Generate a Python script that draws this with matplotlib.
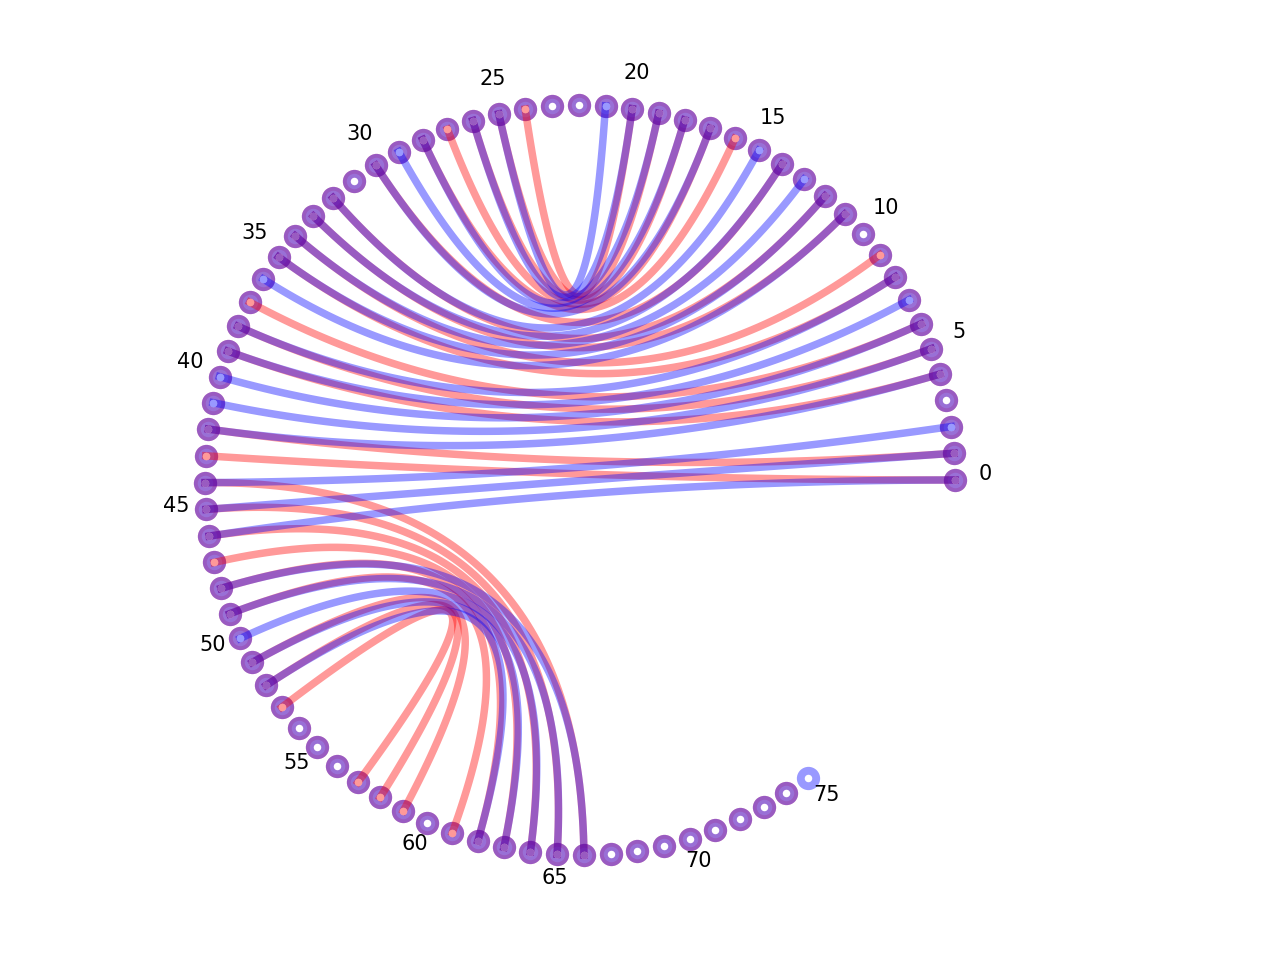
import numpy as np
import matplotlib.pyplot as plt

# two structures compared on one circle: red has 75 bases, blue 76
n_red = 75
n_blue = 76
red_pairs = [(0, 43), (1, 42), (4, 39), (5, 38), (6, 37), (8, 35), (9, 34),
             (11, 33), (12, 32), (14, 30), (16, 28), (17, 27), (18, 26),
             (19, 25), (20, 24), (44, 66), (45, 65), (46, 64), (47, 63),
             (48, 62), (49, 61), (51, 59), (52, 58), (53, 57)]
blue_pairs = [(0, 46), (1, 45), (2, 44), (4, 42), (5, 41), (6, 40), (7, 39),
              (8, 38), (11, 36), (12, 35), (13, 34), (14, 33), (15, 32),
              (17, 30), (18, 29), (19, 28), (20, 26), (21, 25), (48, 66),
              (49, 65), (50, 64), (51, 63), (52, 62)]
label_step = 5

step = np.deg2rad(4.1)


def pos(idx):
    a = np.asarray(idx) * step
    return np.cos(a), np.sin(a)


def bezier(i, j, n=80):
    # quadratic bezier with the control point at the circle centre
    x0, y0 = pos(i)
    x1, y1 = pos(j)
    t = np.linspace(0, 1, n)
    return (1 - t) ** 2 * x0 + t ** 2 * x1, (1 - t) ** 2 * y0 + t ** 2 * y1


fig = plt.figure(figsize=(1280 / 150, 960 / 150), dpi=150)
ax = fig.add_axes([0, 0, 1, 1])
ax.set_xlim(-580 / 375, 700 / 375)
ax.set_ylim(-480 / 375, 480 / 375)
ax.axis('off')

alpha = 0.4
lw = 3.6

# nodes
xr, yr = pos(np.arange(n_red))
xb, yb = pos(np.arange(n_blue))
ax.scatter(xr, yr, s=125, color='red', alpha=alpha, linewidths=0, zorder=1)
ax.scatter(xr, yr, s=55, color='white', alpha=0.35, linewidths=0, zorder=1.1)
ax.scatter(xb, yb, s=125, color='blue', alpha=alpha, linewidths=0, zorder=1.2)

# pairs
for i, j in red_pairs:
    x, y = bezier(i, j)
    ax.plot(x, y, color='red', alpha=alpha, lw=lw, zorder=2)
for i, j in blue_pairs:
    x, y = bezier(i, j)
    ax.plot(x, y, color='blue', alpha=alpha, lw=lw, zorder=2.1)

# centre dots
ax.scatter(xb, yb, s=13, color='white', linewidths=0, zorder=3)
red_paired = sorted({k for p in red_pairs for k in p})
blue_paired = sorted({k for p in blue_pairs for k in p})
px, py = pos(red_paired)
ax.scatter(px, py, s=13, color='red', alpha=alpha, linewidths=0, zorder=3.1)
px, py = pos(blue_paired)
ax.scatter(px, py, s=13, color='blue', alpha=alpha, linewidths=0, zorder=3.2)

# index labels
for k in range(0, n_blue, label_step):
    x, y = pos(k)
    ax.text(1.08 * x, 1.08 * y, str(k), ha='center', fontsize=10)

fig.savefig('out.png', dpi=150)
